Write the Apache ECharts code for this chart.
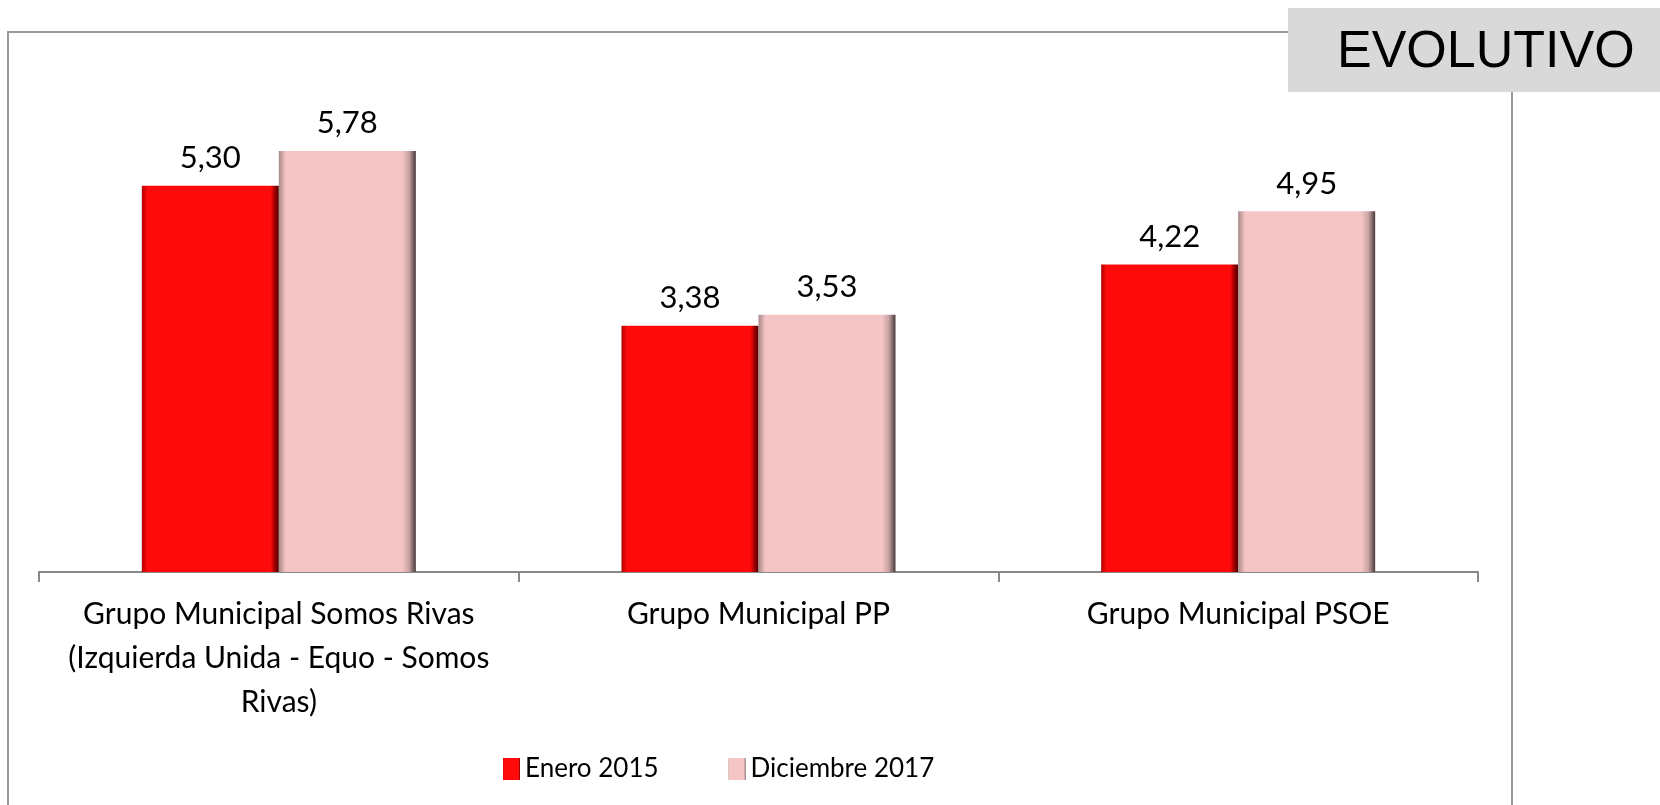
<!DOCTYPE html>
<html>
<head>
<meta charset="utf-8">
<script src="https://cdn.jsdelivr.net/npm/echarts@6/dist/echarts.min.js"></script>
<style>
  html, body { margin:0; padding:0; background:#fff; }
  #main { width:1660px; height:805px; }
</style>
</head>
<body>
<div id="main"></div>
<script>
var categories = [
    'Grupo Municipal Somos Rivas\n(Izquierda Unida - Equo - Somos\nRivas)',
    'Grupo Municipal PP',
    'Grupo Municipal PSOE'
];
var seriesNames = ['Enero 2015', 'Diciembre 2017'];
var enero2015 = [5.30, 3.38, 4.22];
var diciembre2017 = [5.78, 3.53, 4.95];

// bevel look: dark edges left/right, a light band near the top
var redBar = new echarts.graphic.LinearGradient(0, 0, 1, 0, [
    {offset: 0, color: '#b00000'},
    {offset: 0.04, color: '#ff0a0a'},
    {offset: 0.94, color: '#ff0a0a'},
    {offset: 0.97, color: '#a00000'},
    {offset: 1, color: '#500000'}
]);
var pinkBar = new echarts.graphic.LinearGradient(0, 0, 1, 0, [
    {offset: 0, color: '#a88888'},
    {offset: 0.05, color: '#f5c5c5'},
    {offset: 0.9, color: '#f5c5c5'},
    {offset: 0.95, color: '#c9a3a3'},
    {offset: 1, color: '#4a3a3a'}
]);

var fmt = function(p){ return p.value.toFixed(2).replace('.', ','); };

var myChart = echarts.init(document.getElementById('main'));
myChart.setOption({
    animation: false,
    textStyle: {fontFamily: 'Lato'},
    grid: {left: 39, right: 182, top: 62, bottom: 233},
    legend: {
        data: seriesNames,
        icon: 'rect',
        left: 498,
        top: 751,
        itemWidth: 17,
        itemHeight: 22,
        itemGap: 70,
        textStyle: {fontSize: 26, color: '#000', fontFamily: 'Lato'}
    },
    xAxis: {
        type: 'category',
        data: categories,
        axisLine: {lineStyle: {color: '#888', width: 2}},
        axisTick: {show: true, length: 10, lineStyle: {color: '#888', width: 2}},
        axisLabel: {
            fontSize: 30,
            color: '#000',
            lineHeight: 44,
            margin: 20,
            interval: 0
        }
    },
    yAxis: {
        type: 'value',
        min: 0,
        max: 7,
        show: false,
        splitLine: {show: false}
    },
    series: [
        {
            name: seriesNames[0],
            type: 'bar',
            data: enero2015,
            barWidth: 137,
            barGap: '0%',
            itemStyle: {color: redBar},
            label: {show: true, position: 'top', distance: 12, fontSize: 31, color: '#000', formatter: fmt}
        },
        {
            name: seriesNames[1],
            type: 'bar',
            data: diciembre2017,
            barWidth: 137,
            itemStyle: {color: pinkBar},
            label: {show: true, position: 'top', distance: 12, fontSize: 31, color: '#000', formatter: fmt}
        }
    ],
    graphic: [
        {
            type: 'rect',
            z: -1,
            shape: {x: 8, y: 32, width: 1504, height: 820},
            style: {fill: 'none', stroke: '#999', lineWidth: 2}
        },
        {
            type: 'rect',
            z: 10,
            shape: {x: 1288, y: 8, width: 380, height: 84},
            style: {fill: '#d9d9d9'}
        },
        {
            type: 'text',
            z: 11,
            left: 1337,
            top: 27,
            style: {text: 'EVOLUTIVO', font: '52px "Liberation Sans"', fill: '#000'}
        }
    ]
});
</script>
</body>
</html>
